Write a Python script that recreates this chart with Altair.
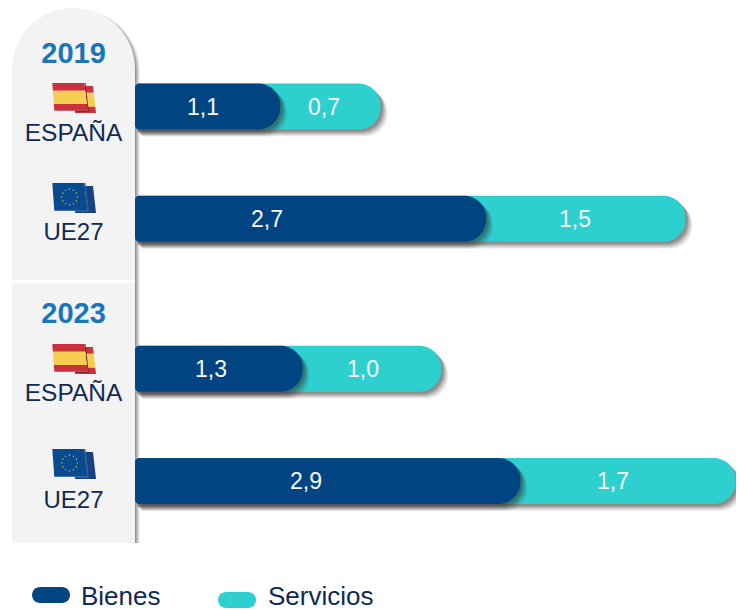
import math
import altair as alt
import pandas as pd

# ---- data ----
rows = ["2019 ESPAÑA", "2019 UE27", "2023 ESPAÑA", "2023 UE27"]
bienes = [1.10, 2.66, 1.27, 2.92]
servicios = [0.76, 1.51, 1.05, 1.63]
bienes_lbl = ["1,1", "2,7", "1,3", "2,9"]
servicios_lbl = ["0,7", "1,5", "1,0", "1,7"]
# where each value label sits along the value axis
bienes_lbl_at = [0.515, 1.00, 0.576, 1.295]
servicios_lbl_at = [1.432, 3.333, 1.727, 3.621]

NAVY = "#004481"
TEAL = "#2ECFCF"
INK = "#0F2A55"
BLUE = "#1B75BB"
FONT = "Liberation Sans"
W, H = 728, 602

df = pd.DataFrame({
    "row": rows,
    "bienes": bienes,
    "total": [round(a + b, 2) for a, b in zip(bienes, servicios)],
    "bl": bienes_lbl,
    "sl": servicios_lbl,
    "bmid": bienes_lbl_at,
    "smid": servicios_lbl_at,
})

X = alt.Scale(domain=[-127 / 132, (W - 127) / 132])
# rows sit on a point scale; the blank slots give the wider gap between the two years
domain = [rows[0], " a", " b", rows[1], " c", " d", " e", rows[2], " f", " g", rows[3]]
Y = alt.Scale(type="point", domain=domain, range=[98.5, 473], padding=0)
one = pd.DataFrame({"a": [0]})
BAR_H = 46
R = 22


def fx(field):
    return alt.X(f"{field}:Q", scale=X, axis=None)


fy = alt.Y("row:N", scale=Y, axis=None)
layers = []


def rect(x0, x1, y0, y1, color, opacity=1.0, **kw):
    return alt.Chart(one).mark_rect(color=color, opacity=opacity, **kw).encode(
        x=alt.value(x0), x2=alt.value(x1), y=alt.value(y0), y2=alt.value(y1))


def label(txt, x, y, size, color, weight="normal", align="center"):
    return alt.Chart(pd.DataFrame({"t": [txt]})).mark_text(
        font=FONT, fontSize=size, color=color, fontWeight=weight, align=align, baseline="middle"
    ).encode(x=alt.value(x), y=alt.value(y), text="t:N")


def shape(path, x, y, color):
    return alt.Chart(one).mark_point(
        shape=path, size=4, filled=True, fill=color, opacity=1, strokeWidth=0
    ).encode(x=alt.value(x), y=alt.value(y))


def poly(pts):
    return "M" + " L".join(f"{a:.2f} {b:.2f}" for a, b in pts) + " Z"


def front(t0, t1):
    def lx(t):
        return 0.3 + 2.0 * t / 27.7

    def rx(t):
        return 32.3 + 3.4 * t / 27.7
    return poly([(lx(t0), t0), (rx(t0), t0), (rx(t1), t1), (lx(t1), t1)])


def back(t0, t1):
    def rx(t):
        return 41 + 3 * (t - 3) / 27

    def ix(t):
        return 33 + 2.7 * (t - 3) / 24.7
    if t1 > 27.7:
        return poly([(ix(t0), t0), (rx(t0), t0), (rx(t1), t1), (23, t1), (23, 27.7), (35.7, 27.7)])
    return poly([(ix(t0), t0), (rx(t0), t0), (rx(t1), t1), (ix(t1), t1)])


def spain(x, y):
    out = []
    out.append(shape(back(3, 9.7), x, y, "#C9323C"))
    out.append(shape(back(9.7, 23.7), x, y, "#F6CD4F"))
    out.append(shape(back(23.7, 30), x, y, "#C9323C"))
    out.append(shape(poly([(32.3, 0), (33.5, 0), (36.8, 28.7), (23, 28.7), (23, 27.7), (35.7, 27.7)]), x, y, "#6B2A2A"))
    out.append(shape(front(0, 7.7), x, y, "#C9323C"))
    out.append(shape(front(7.7, 21), x, y, "#F6CD4F"))
    out.append(shape(front(21, 27.7), x, y, "#C9323C"))
    return out


def eu(x, y):
    out = []
    out.append(shape(back(3, 30), x, y, "#17427F"))
    out.append(shape(poly([(32.3, 0), (33.5, 0), (36.8, 28.7), (23, 28.7), (23, 27.7), (35.7, 27.7)]), x, y, "#3A5F9A"))
    out.append(shape(poly([(0.3, 0), (32.3, 0), (35.7, 27.7), (2.3, 27.7)]), x, y, "#0A4A8F"))
    dots = ""
    for i in range(12):
        a = math.radians(30 * i)
        cx, cy = 17.5 + 7.8 * math.cos(a), 14 + 7.8 * math.sin(a)
        dots += poly([(cx - .6, cy - .6), (cx + .6, cy - .6), (cx + .6, cy + .6), (cx - .6, cy + .6)]) + " "
    out.append(shape(dots.strip(), x, y, "#F2CF4A"))
    return out


# ---- side panel with its shadow following the rounded top ----
for off, op in [(5, .08), (4, .11), (3, .15), (2, .18), (1, .22)]:
    layers.append(rect(4 + off, 127 + off, 2, 535, "#444444", op,
                       cornerRadiusTopLeft=61, cornerRadiusTopRight=61))
layers.append(rect(4, 127, 272, 275, "#FFFFFF"))
layers.append(rect(4, 127, 0, 272, "#F3F3F3", cornerRadiusTopLeft=61, cornerRadiusTopRight=61))
layers.append(rect(4, 127, 275, 535, "#F3F3F3"))

layers.append(label("2019", 65.5, 46, 29, BLUE, "bold"))
layers.append(label("2023", 65.5, 306, 29, BLUE, "bold"))
layers.append(label("ESPAÑA", 65.5, 126, 24.5, INK))
layers.append(label("UE27", 65.5, 224.5, 24, INK))
layers.append(label("ESPAÑA", 65.5, 386, 24.5, INK))
layers.append(label("UE27", 65.5, 492.5, 24, INK))
layers += spain(44, 75)
layers += eu(44, 175)
layers += spain(44, 336)
layers += eu(44, 441)


# ---- bars with a soft shadow ----
def shadow(field):
    out = []
    for d, op in [(7, .07), (6, .09), (5, .11), (4, .14), (3, .16), (2, .18)]:
        out.append(alt.Chart(df).mark_bar(
            color="#333333", opacity=op, height=BAR_H,
            cornerRadiusTopRight=R, cornerRadiusBottomRight=R,
            xOffset=d, x2Offset=d, yOffset=d, y2Offset=d,
        ).transform_calculate(z="0").encode(x=fx("z"), x2=alt.X2(f"{field}"), y=fy))
    return out


def bar(field, color):
    return alt.Chart(df).mark_bar(
        color=color, height=BAR_H,
        cornerRadiusTopRight=R, cornerRadiusBottomRight=R,
        cornerRadiusTopLeft=4, cornerRadiusBottomLeft=4,
    ).transform_calculate(z="0").encode(x=fx("z"), x2=alt.X2(f"{field}"), y=fy)


layers += shadow("total")
layers.append(bar("total", TEAL))
layers += shadow("bienes")
layers.append(bar("bienes", NAVY))

layers.append(alt.Chart(df).mark_text(font=FONT, fontSize=23, color="#F8FBFD", baseline="middle", dy=1).encode(
    x=fx("bmid"), y=fy, text="bl:N"))
layers.append(alt.Chart(df).mark_text(font=FONT, fontSize=23, color="#F8FBFD", baseline="middle", dy=1).encode(
    x=fx("smid"), y=fy, text="sl:N"))

# ---- legend ----
layers.append(rect(24, 62, 579, 595, NAVY, cornerRadius=8))
layers.append(label("Bienes", 73, 589, 26, INK, align="left"))
layers.append(rect(210, 248, 584, 600, TEAL, cornerRadius=8))
layers.append(label("Servicios", 260, 588.5, 26, INK, align="left"))

chart = alt.layer(*layers).properties(
    width=W, height=H, padding=0, autosize=alt.AutoSizeParams(type="none"),
    background="white",
).configure_view(stroke=None)

chart.save("out.html", embed_options={"renderer": "svg", "actions": False})
